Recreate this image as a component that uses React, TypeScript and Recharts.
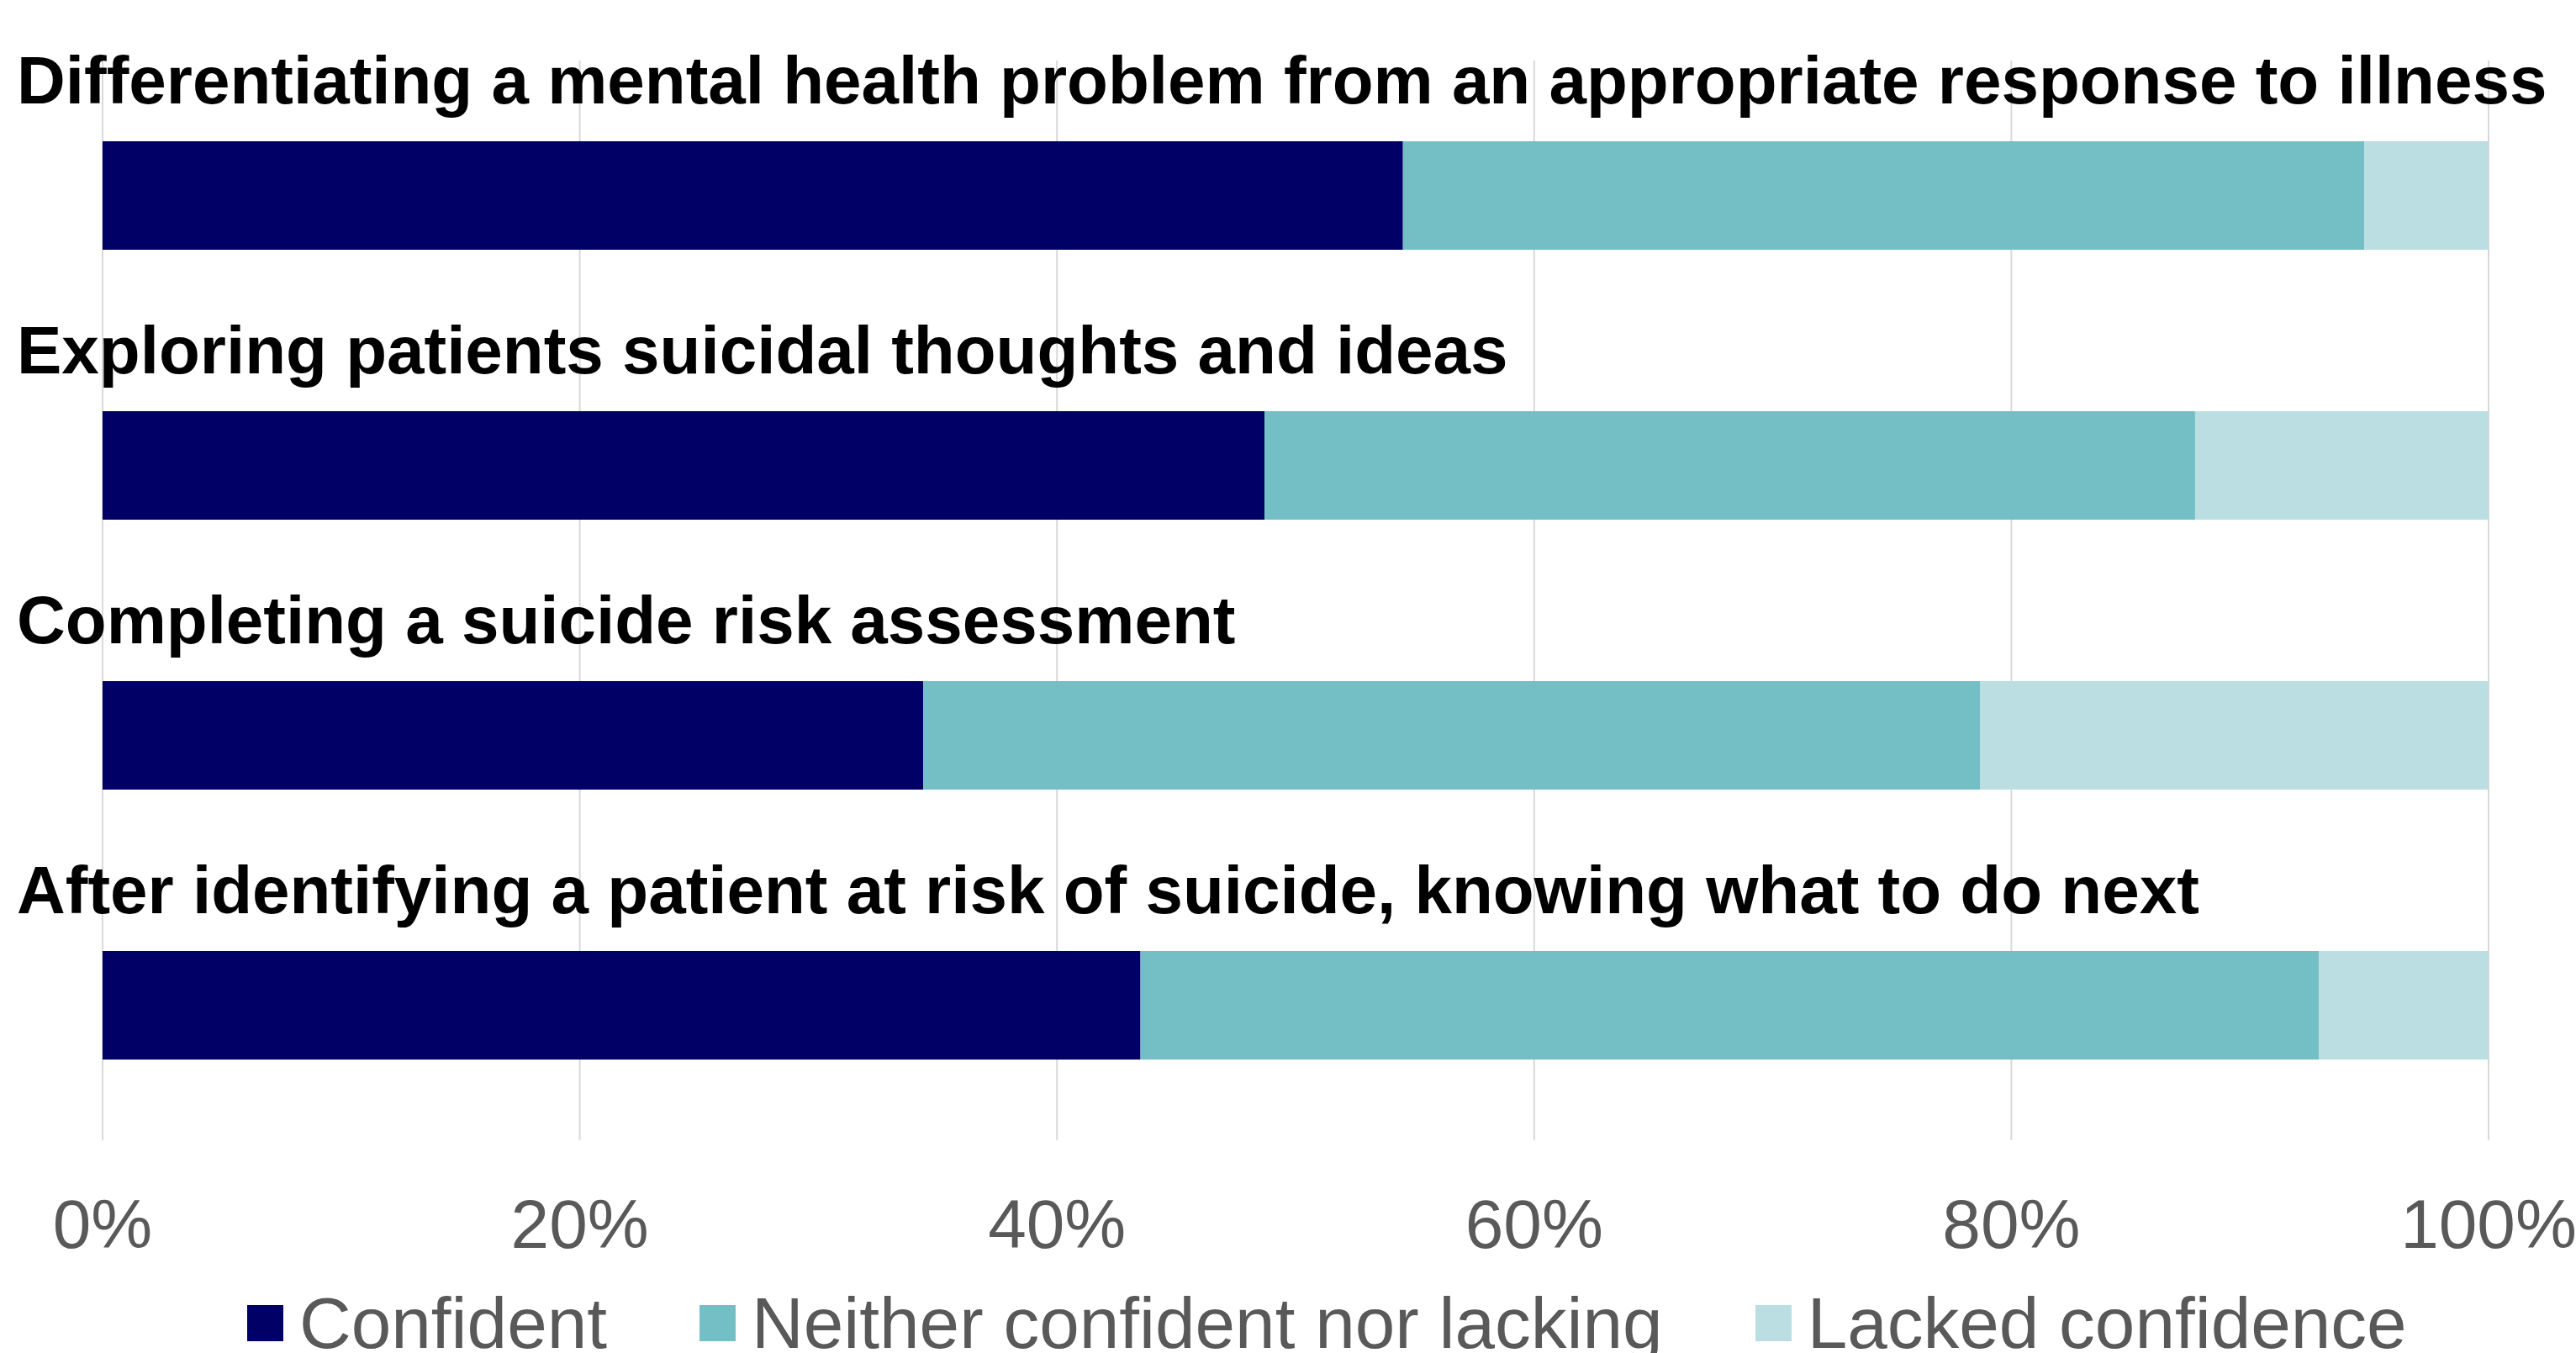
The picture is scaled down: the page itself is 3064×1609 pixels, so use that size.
import React from "react";
import { Bar, BarChart, CartesianGrid, XAxis, YAxis } from "recharts";

const categories = [
  "Differentiating a mental health problem from an appropriate response to illness",
  "Exploring patients suicidal thoughts and ideas",
  "Completing a suicide risk assessment",
  "After identifying a patient at risk of suicide, knowing what to do next",
];

const confident = [54.5, 48.7, 34.4, 43.5];
const neither = [40.3, 39.0, 44.3, 49.4];
const lacked = [5.2, 12.3, 21.3, 7.1];

const xTicks = [0, 20, 40, 60, 80, 100];

const seriesNames = ["Confident", "Neither confident nor lacking", "Lacked confidence"];
const seriesKeys = ["confident", "neither", "lacked"];
const seriesColors = ["#000066", "#74bfc5", "#bbdee2"];

const data = categories.map((name, i) => ({
  name,
  confident: confident[i],
  neither: neither[i],
  lacked: lacked[i],
}));

const FONT = "'Liberation Sans', Arial, Helvetica, sans-serif";

function CategoryTick(props: any) {
  const { y, payload } = props;
  return (
    <text
      x={20}
      y={y - 110}
      fill="#000000"
      fontFamily={FONT}
      fontWeight="bold"
      fontSize={80}
      textAnchor="start"
    >
      {payload.value}
    </text>
  );
}

export default function App() {
  return (
    <div
      style={{
        position: "absolute",
        left: 0,
        top: 0,
        width: 3064,
        height: 1609,
        background: "#ffffff",
        overflow: "hidden",
        fontFamily: FONT,
      }}
    >
      <BarChart
        width={3064}
        height={1609}
        data={data}
        layout="vertical"
        margin={{ top: 72, right: 104, left: 0, bottom: 53 }}
      >
        <CartesianGrid horizontal={false} stroke="#d9d9d9" strokeWidth={2} />
        <XAxis
          type="number"
          domain={[0, 100]}
          ticks={xTicks}
          tickFormatter={(v) => `${v}%`}
          axisLine={false}
          tickLine={false}
          tickMargin={64}
          height={200}
          interval={0}
          tick={{ fill: "#595959", fontSize: 82, fontFamily: FONT }}
        />
        <YAxis
          type="category"
          dataKey="name"
          width={122}
          axisLine={false}
          tickLine={false}
          interval={0}
          tick={<CategoryTick />}
        />
        {seriesKeys.map((key, i) => (
          <Bar
            key={key}
            dataKey={key}
            name={seriesNames[i]}
            stackId="a"
            fill={seriesColors[i]}
            barSize={129}
            isAnimationActive={false}
          />
        ))}
      </BarChart>
      <div
        style={{
          position: "absolute",
          left: 294,
          top: 1531,
          display: "flex",
          alignItems: "center",
          gap: 110,
          whiteSpace: "nowrap",
        }}
      >
        {seriesNames.map((name, i) => (
          <div key={name} style={{ display: "flex", alignItems: "center", gap: 19 }}>
            <div style={{ width: 43, height: 43, background: seriesColors[i] }} />
            <span style={{ fontSize: 85.5, lineHeight: 1, color: "#595959" }}>{name}</span>
          </div>
        ))}
      </div>
    </div>
  );
}
